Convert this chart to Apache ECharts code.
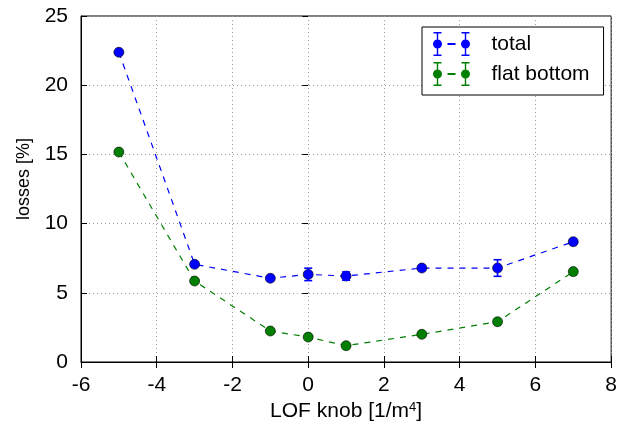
<!DOCTYPE html>
<html>
<head>
<meta charset="utf-8">
<script src="https://cdn.jsdelivr.net/npm/echarts@6/dist/echarts.min.js"></script>
<style>
  html, body { margin: 0; padding: 0; background: #fff; }
  #chart { width: 620px; height: 430px; }
</style>
</head>
<body>
<div id="chart"></div>
<script>
// LOF knob settings
let knob = [-5, -3, -1, 0, 1, 3, 5, 7];

// losses [%] and their errors
let total = [22.38, 7.06, 6.05, 6.33, 6.21, 6.79, 6.79, 8.69];
let totalErr = [0.12, 0.15, 0.1, 0.45, 0.3, 0.15, 0.6, 0.12];
let flat = [15.17, 5.85, 2.24, 1.8, 1.18, 2.0, 2.91, 6.53];
let flatErr = [0.1, 0.1, 0.1, 0.1, 0.2, 0.12, 0.1, 0.1];

let fontName = "Liberation Sans";

// legend icon: errorbar+dot, dash, errorbar+dot
let legendIcon = 'path://' +
    'M2 0h8v1.6h-8z M5.3 1.6h1.4v20.8h-1.4z M2 22.4h8v1.6h-8z M6 7.5a4.5 4.5 0 1 1 -0.001 0z ' +
    'M16 11.1h8v1.8h-8z ' +
    'M30 0h8v1.6h-8z M33.3 1.6h1.4v20.8h-1.4z M30 22.4h8v1.6h-8z M34 7.5a4.5 4.5 0 1 1 -0.001 0z';

function pairs(xs, ys)
{
    let out = [];
    for (let i in xs) {
        out.push([xs[i], ys[i]]);
    }
    return out;
}

function errData(xs, ys, es)
{
    let out = [];
    for (let i in xs) {
        out.push([xs[i], ys[i] - es[i], ys[i] + es[i]]);
    }
    return out;
}

function errorBars(color)
{
    return function (params, api) {
        let lo = api.coord([api.value(0), api.value(1)]);
        let hi = api.coord([api.value(0), api.value(2)]);
        let w = 4;
        let style = { stroke: color, lineWidth: 1.6 };
        return {
            type: 'group',
            children: [
                { type: 'line', shape: { x1: lo[0], y1: lo[1], x2: hi[0], y2: hi[1] }, style: style },
                { type: 'line', shape: { x1: lo[0] - w, y1: lo[1], x2: lo[0] + w, y2: lo[1] }, style: style },
                { type: 'line', shape: { x1: hi[0] - w, y1: hi[1], x2: hi[0] + w, y2: hi[1] }, style: style }
            ]
        };
    };
}

var myChart = echarts.init(document.getElementById("chart"));

let gridLine = { show: true, lineStyle: { color: '#999', type: [1, 3], width: 1 } };
let tick = { show: true, inside: true, length: 6, lineStyle: { color: '#000' } };
let labelStyle = { color: '#000', fontFamily: fontName, fontSize: 21 };

let option = {
    animation: false,
    backgroundColor: '#fff',
    grid: {
        left: 81, right: 6, top: 16, bottom: 68,
        show: true, borderColor: '#000', borderWidth: 1
    },
    legend: {
        orient: 'vertical',
        left: 422, top: 27,
        padding: [5, 14, 9, 11],
        itemWidth: 40, itemHeight: 24,
        itemGap: 6,
        backgroundColor: '#fff',
        borderColor: '#000', borderWidth: 1,
        textStyle: { color: '#000', fontFamily: fontName, fontSize: 21, padding: [0, 0, 0, 15] },
        data: [
            { name: 'total', icon: legendIcon, itemStyle: { color: '#0000ff', borderWidth: 0 } },
            { name: 'flat bottom', icon: legendIcon, itemStyle: { color: '#007f00', borderWidth: 0 } }
        ]
    },
    xAxis: [{
        type: 'value', min: -6, max: 8, interval: 2,
        name: 'LOF knob [1/m{sup|4}]', nameLocation: 'middle', nameGap: 38,
        nameTextStyle: {
            color: '#000', fontFamily: fontName, fontSize: 21,
            rich: { sup: { fontFamily: fontName, fontSize: 13, color: '#000', verticalAlign: 'top', padding: [0, 0, 8, 0] } }
        },
        axisLine: { show: true, onZero: false, lineStyle: { color: '#000' } },
        axisTick: tick,
        axisLabel: Object.assign({ margin: 13 }, labelStyle),
        splitLine: gridLine
    }, {
        type: 'value', position: 'top', min: -6, max: 8, interval: 2,
        axisLine: { show: false }, axisTick: tick,
        axisLabel: { show: false }, splitLine: { show: false }
    }],
    yAxis: [{
        type: 'value', min: 0, max: 25, interval: 5,
        name: 'losses [%]', nameLocation: 'middle', nameGap: 48,
        nameTextStyle: { color: '#000', fontFamily: fontName, fontSize: 18, padding: [0, 0, 0, 20] },
        axisLine: { show: true, onZero: false, lineStyle: { color: '#000' } },
        axisTick: tick,
        axisLabel: Object.assign({ margin: 13 }, labelStyle),
        splitLine: gridLine
    }, {
        type: 'value', position: 'right', min: 0, max: 25, interval: 5,
        axisLine: { show: false }, axisTick: tick,
        axisLabel: { show: false }, splitLine: { show: false }
    }],
    series: [
        {
            name: 'total', type: 'line',
            data: pairs(knob, total),
            symbol: 'circle', symbolSize: 10,
            itemStyle: { color: '#0000ff', borderColor: '#000', borderWidth: 0.6 },
            lineStyle: { color: '#0000ff', width: 1.2, type: [6, 6] },
            z: 3
        },
        {
            type: 'custom',
            renderItem: errorBars('#0000ff'),
            data: errData(knob, total, totalErr),
            encode: { x: 0, y: [1, 2] },
            z: 4
        },
        {
            name: 'flat bottom', type: 'line',
            data: pairs(knob, flat),
            symbol: 'circle', symbolSize: 10,
            itemStyle: { color: '#007f00', borderColor: '#000', borderWidth: 0.6 },
            lineStyle: { color: '#007f00', width: 1.2, type: [6, 6] },
            z: 3
        },
        {
            type: 'custom',
            renderItem: errorBars('#007f00'),
            data: errData(knob, flat, flatErr),
            encode: { x: 0, y: [1, 2] },
            z: 4
        }
    ]
};

myChart.setOption(option);
</script>
</body>
</html>
